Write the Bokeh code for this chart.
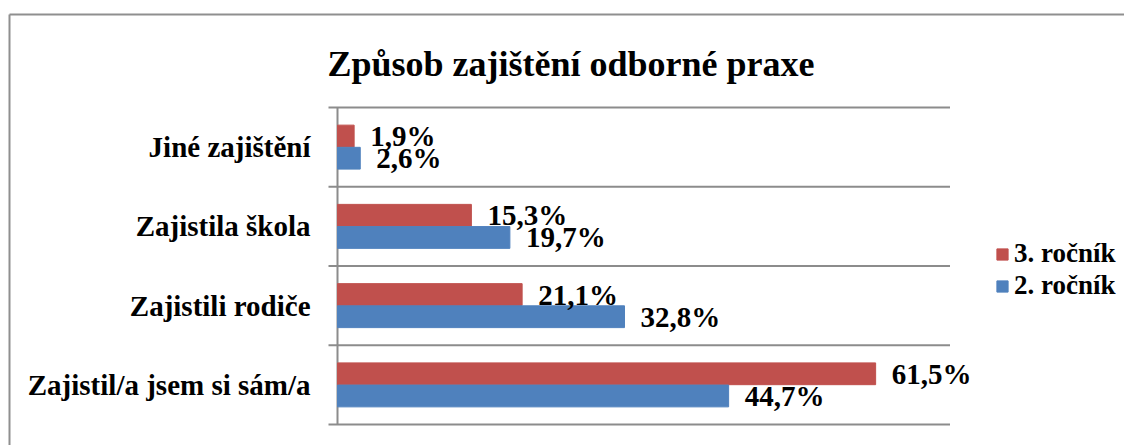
from bokeh.plotting import figure
from bokeh.models import ColumnDataSource, Legend, LegendItem, Range1d
from bokeh.core.properties import value
from bokeh.embed import file_html
from bokeh.resources import INLINE

# ---- data ----
categories = ["Zajistil/a jsem si sám/a", "Zajistili rodiče", "Zajistila škola", "Jiné zajištění"]
series_names = ["3. ročník", "2. ročník"]
values_3 = [61.5, 21.1, 15.3, 1.9]
values_2 = [44.7, 32.8, 19.7, 2.6]
title_text = "Způsob zajištění  odborné praxe"
colors = ["#C0504D", "#4F81BD"]
axis_max = 70


def fmt(v):
    return f"{v:.1f}%".replace(".", ",")


FONT = "Liberation Serif"
GRID = "#8c8c8c"
W, H = 1124, 445
# layout (pixels within the canvas)
X0_PX = 337          # where value 0 sits
PX_PER_X = 8.75      # pixels per percent
Y0_PX = 424          # where category boundary 0 sits (from top)
PX_PER_Y = 79.25     # pixels per category band

x_start = -X0_PX / PX_PER_X
x_end = (W - X0_PX) / PX_PER_X
y_start = -(H - Y0_PX) / PX_PER_Y
y_end = Y0_PX / PX_PER_Y


def px_x(px):
    return (px - X0_PX) / PX_PER_X


def px_y(px):
    return (Y0_PX - px) / PX_PER_Y


n = len(categories)
centers = [i + 0.5 for i in range(n)]
off = 0.14
src = ColumnDataSource(dict(
    y3=[c + off for c in centers],
    y2=[c - off for c in centers],
    v3=values_3,
    v2=values_2,
    l3=[fmt(v) for v in values_3],
    l2=[fmt(v) for v in values_2],
))

p = figure(width=W, height=H,
           x_range=Range1d(x_start, x_end), y_range=Range1d(y_start, y_end),
           output_backend="svg", toolbar_location=None,
           min_border=0, min_border_left=0, min_border_right=0,
           min_border_top=0, min_border_bottom=0)
p.outline_line_color = None
p.axis.visible = False
p.grid.visible = False
p.background_fill_color = "white"
p.border_fill_color = "white"

# outer chart border (left and top edges visible)
p.segment(x0=[px_x(9), px_x(9)], y0=[px_y(14), px_y(14)],
          x1=[px_x(9), x_end], y1=[y_start, px_y(14)],
          line_color="#8f8f8f", line_width=2)

# category boundary grid lines + axis line
bounds = list(range(n + 1))
p.segment(x0=[px_x(X0_PX - 9)] * len(bounds), y0=bounds,
          x1=[axis_max] * len(bounds), y1=bounds,
          line_color=GRID, line_width=2)
p.segment(x0=0, y0=0, x1=0, y1=n, line_color=GRID, line_width=2)

r3 = p.hbar(y="y3", left=0, right="v3", height=0.275, color=colors[0], source=src)
r2 = p.hbar(y="y2", left=0, right="v2", height=0.275, color=colors[1], source=src)

# category labels
p.text(x=[px_x(X0_PX - 27)] * n, y=centers, text=categories,
       text_align="right", text_baseline="middle",
       text_font=value(FONT), text_font_style="bold", text_font_size="29px",
       text_color="black")

# data labels
p.text(x="v3", y="y3", text="l3", source=src, x_offset=16,
       text_align="left", text_baseline="middle",
       text_font=value(FONT), text_font_style="bold", text_font_size="29px",
       text_color="black")
p.text(x="v2", y="y2", text="l2", source=src, x_offset=16,
       text_align="left", text_baseline="middle",
       text_font=value(FONT), text_font_style="bold", text_font_size="29px",
       text_color="black")

# title
p.text(x=[px_x(575)], y=[px_y(63)], text=[title_text],
       text_align="center", text_baseline="alphabetic",
       text_font=value(FONT), text_font_style="bold", text_font_size="36px",
       text_color="black")

legend = Legend(items=[LegendItem(label=series_names[0], renderers=[r3]),
                       LegendItem(label=series_names[1], renderers=[r2])],
                location=(995, H - 301), orientation="vertical",
                border_line_color=None, background_fill_alpha=0,
                padding=0, margin=0, spacing=1,
                glyph_width=14, glyph_height=14, label_standoff=5,
                label_height=30,
                label_text_font=FONT, label_text_font_style="bold",
                label_text_font_size="27px", label_text_color="black")
p.add_layout(legend, "center")

open("out.html", "w").write(file_html(p, INLINE))
